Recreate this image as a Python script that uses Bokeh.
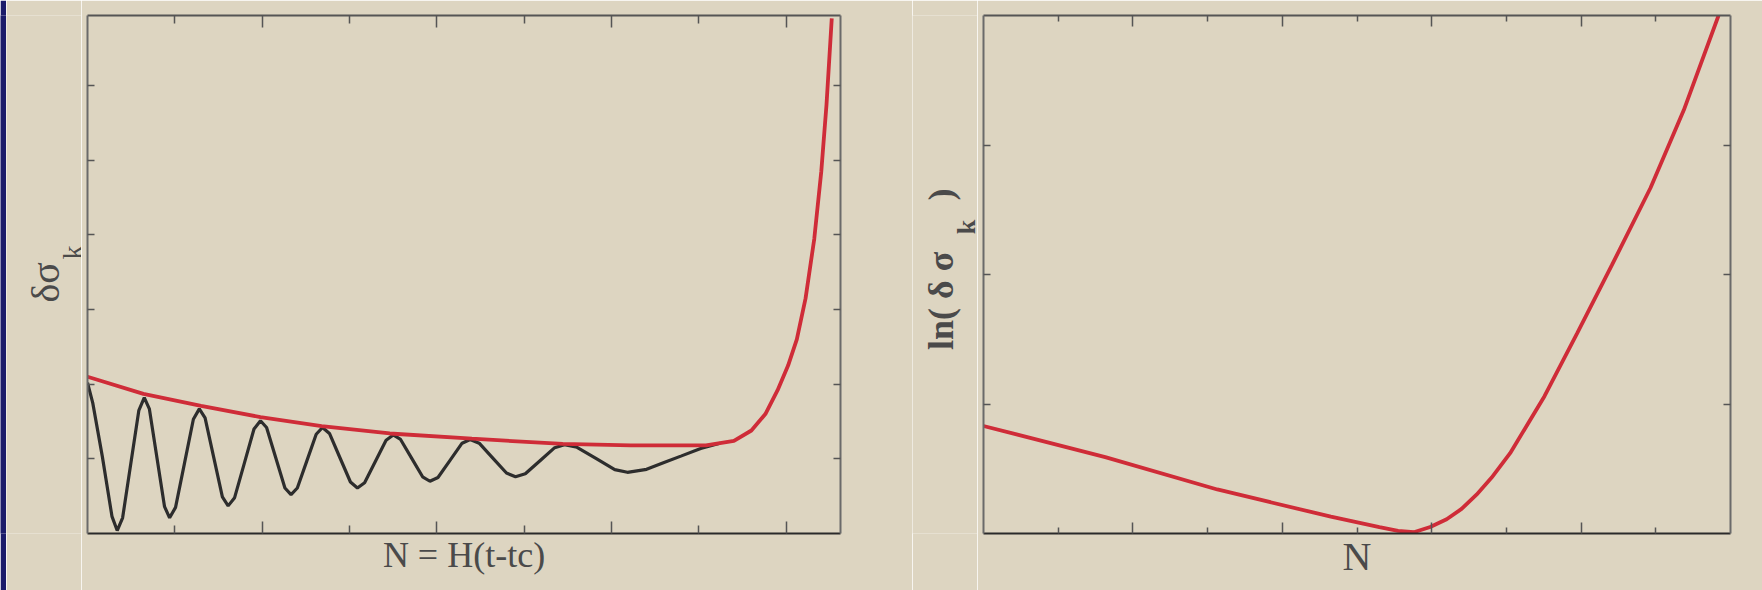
from bokeh.plotting import figure
from bokeh.models import LinearAxis, FixedTicker, Range1d, CustomLabelingPolicy
from bokeh.layouts import row
from bokeh.core.properties import value
from bokeh.embed import file_html
from bokeh.resources import INLINE
from math import pi

# ---------------- data ----------------
# left panel: envelope (red) of the oscillating mode
env_x = [0.00, 0.32, 0.65, 0.99, 1.34, 1.73, 2.20, 2.72, 3.11, 3.54, 3.70, 3.80,
         3.88, 3.95, 4.01, 4.06, 4.11, 4.16, 4.20, 4.23, 4.26]
env_y = [2.10, 1.87, 1.71, 1.56, 1.44, 1.34, 1.27, 1.20, 1.18, 1.18, 1.24, 1.38,
         1.60, 1.92, 2.25, 2.60, 3.15, 3.95, 4.85, 5.75, 6.90]

# left panel: oscillating mode (black)
osc_x = [0.000, 0.030, 0.085, 0.140, 0.170,
         0.201, 0.2475, 0.294, 0.325,
         0.354, 0.3975, 0.441, 0.470,
         0.504, 0.555, 0.606, 0.640,
         0.673, 0.7225, 0.772, 0.805,
         0.842, 0.8975, 0.953, 0.990,
         1.025, 1.0775, 1.130, 1.165,
         1.201, 1.255, 1.309, 1.345,
         1.385, 1.445, 1.505, 1.545,
         1.586, 1.6475, 1.709, 1.750,
         1.792, 1.855, 1.918, 1.960,
         2.006, 2.075, 2.144, 2.190,
         2.242, 2.320, 2.398, 2.450,
         2.506, 2.590, 2.674, 2.730,
         2.802, 2.910, 3.018, 3.090,
         3.200, 3.300, 3.400, 3.510, 3.620]
osc_y = [2.02, 1.75, 1.03, 0.23, 0.04,
         0.21, 0.93, 1.65, 1.82,
         1.67, 1.015, 0.36, 0.21,
         0.35, 0.94, 1.53, 1.67,
         1.55, 1.02, 0.49, 0.37,
         0.48, 0.94, 1.40, 1.51,
         1.42, 1.015, 0.61, 0.52,
         0.61, 0.97, 1.33, 1.42,
         1.34, 1.015, 0.69, 0.61,
         0.68, 0.965, 1.25, 1.32,
         1.26, 1.01, 0.76, 0.70,
         0.75, 0.98, 1.21, 1.26,
         1.21, 1.01, 0.81, 0.76,
         0.80, 0.975, 1.15, 1.19,
         1.155, 1.005, 0.855, 0.82,
         0.86, 0.95, 1.04, 1.14, 1.21]

# right panel: ln(delta sigma_k) vs N
ln_x = [0.00, 1.63, 3.13, 4.65, 5.30, 5.55, 5.76, 5.98, 6.20, 6.40, 6.60, 6.80,
        7.05, 7.51, 7.95, 8.41, 8.93, 9.375, 9.84]
ln_y = [0.83, 0.59, 0.34, 0.13, 0.05, 0.02, 0.01, 0.05, 0.11, 0.19, 0.30, 0.43,
        0.62, 1.06, 1.55, 2.07, 2.67, 3.27, 4.00]

# ticks
left_x_major = [1, 2, 3, 4]
left_x_minor = [0.5, 1.5, 2.5, 3.5]
left_y_major = [1, 2, 3, 4, 5, 6]
right_x_major = [2, 4, 6, 8]
right_x_minor = [1, 3, 5, 7, 9]
right_y_major = [1, 2, 3]

# texts
left_xlabel = "N = H(t-tc)"
left_ylabel = "δσ"
right_xlabel = "N"
right_ylabel = "ln( δ σ"
sub_k = "k"
close_paren = ")"

# ---------------- styling ----------------
BG = "#ddd5c1"
RED = "#cf2c38"
BLACK = "#2d2d2d"
TXT = "#4a4a4a"
SERIF = "Liberation Serif"

NO_LABELS = CustomLabelingPolicy(code="""
for (const i of indices) { indices.unset(i) }
return indices
""")


def make_axis(major, minor, major_len, minor_len, color, lw):
    ax = LinearAxis()
    ax.ticker = FixedTicker(ticks=major, minor_ticks=minor)
    ax.major_tick_in = major_len
    ax.major_tick_out = 0
    ax.minor_tick_in = minor_len
    ax.minor_tick_out = 0
    ax.major_label_policy = NO_LABELS
    ax.major_label_text_font_size = "1px"
    ax.major_label_standoff = 0
    ax.axis_line_color = color
    ax.axis_line_width = lw
    ax.major_tick_line_color = "#555555"
    ax.minor_tick_line_color = "#555555"
    ax.major_tick_line_width = 1.5
    ax.minor_tick_line_width = 1.5
    return ax


def make_fig(width, bl, br, bt, bb, xr, yr):
    p = figure(width=width, height=590, toolbar_location=None, output_backend="svg",
               x_range=Range1d(*xr), y_range=Range1d(*yr),
               x_axis_location=None, y_axis_location=None,
               min_border_left=bl, min_border_right=br,
               min_border_top=bt, min_border_bottom=bb)
    p.background_fill_color = BG
    p.border_fill_color = BG
    p.outline_line_color = None
    p.grid.visible = False
    return p


def label_fig(width):
    f = figure(width=width, height=590, toolbar_location=None, output_backend="svg",
               x_range=Range1d(0, width), y_range=Range1d(0, 590), min_border=0,
               x_axis_location=None, y_axis_location=None)
    f.grid.visible = False
    f.outline_line_color = None
    f.background_fill_color = BG
    f.border_fill_color = BG
    return f


def vtext(f, x, y, txt, size, bold=False):
    f.text(x=[x], y=[y], text=[txt], angle=pi / 2, text_align="center",
           text_baseline="middle", text_font=value(SERIF), text_font_size=size,
           text_font_style="bold" if bold else "normal", text_color=TXT)


# dark strip at the far left
strip = figure(width=6, height=590, toolbar_location=None, output_backend="svg",
               min_border=0, x_axis_location=None, y_axis_location=None)
strip.grid.visible = False
strip.outline_line_color = None
strip.background_fill_color = "#1b1b6a"
strip.border_fill_color = "#1b1b6a"

# ---------------- left y label ----------------
lab1 = label_fig(75)
vtext(lab1, 39, 286, left_ylabel, "40px")
vtext(lab1, 66, 320, sub_k, "28px")

# ---------------- left panel ----------------
p1 = make_fig(831, 6, 72, 14, 57, (0, 4.31), (0, 6.94))
bottom1 = make_axis(left_x_major, left_x_minor, 12, 8, "#2a2a2a", 2)
bottom1.axis_label = left_xlabel
bottom1.axis_label_text_font = SERIF
bottom1.axis_label_text_font_size = "36px"
bottom1.axis_label_text_font_style = "normal"
bottom1.axis_label_text_color = TXT
bottom1.axis_label_standoff = -3
p1.add_layout(bottom1, "below")
p1.add_layout(make_axis(left_x_major, left_x_minor, 12, 8, "#555555", 2), "above")
p1.add_layout(make_axis(left_y_major, [], 7, 0, "#6a6a6a", 2), "left")
p1.add_layout(make_axis(left_y_major, [], 7, 0, "#6a6a6a", 2), "right")

p1.line(osc_x, osc_y, line_color=BLACK, line_width=3.2)
p1.line(env_x, env_y, line_color=RED, line_width=3.8)

# ---------------- right y label ----------------
lab2 = label_fig(65)
vtext(lab2, 28, 265, right_ylabel, "36px", bold=True)
vtext(lab2, 54, 349, sub_k, "26px", bold=True)
vtext(lab2, 28, 386, close_paren, "36px", bold=True)

# ---------------- right panel ----------------
p2 = make_fig(785, 6, 32, 15, 57, (0, 10), (0, 4))
bottom2 = make_axis(right_x_major, right_x_minor, 11, 6, "#2a2a2a", 2)
bottom2.axis_label = right_xlabel
bottom2.axis_label_text_font = SERIF
bottom2.axis_label_text_font_size = "40px"
bottom2.axis_label_text_font_style = "normal"
bottom2.axis_label_text_color = TXT
bottom2.axis_label_standoff = -4
p2.add_layout(bottom2, "below")
p2.add_layout(make_axis(right_x_major, right_x_minor, 11, 6, "#555555", 2), "above")
p2.add_layout(make_axis(right_y_major, [], 7, 0, "#6a6a6a", 2), "left")
p2.add_layout(make_axis(right_y_major, [], 7, 0, "#6a6a6a", 2), "right")

p2.line(ln_x, ln_y, line_color=RED, line_width=3.8)

layout = row(strip, lab1, p1, lab2, p2)
open("out.html", "w").write(file_html(layout, INLINE))
